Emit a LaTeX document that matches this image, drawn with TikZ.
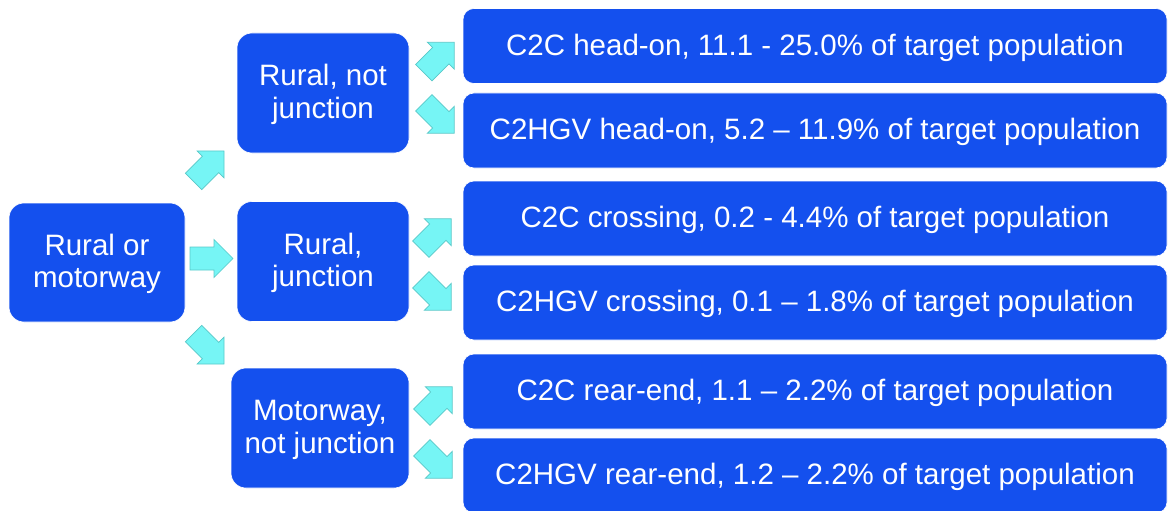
\documentclass[tikz,border=0pt]{standalone}
\usepackage{fontspec}
\setmainfont{Liberation Sans}
\definecolor{boxblue}{RGB}{20,80,238}
\definecolor{arrfill}{RGB}{118,245,245}
\definecolor{arredge}{RGB}{88,200,200}
\newcommand\shiftlbl[1]{\raisebox{-2.5pt}[\height][\depth]{\begin{tabular}{@{}c@{}}#1\end{tabular}}}
\tikzset{
  bluebox/.style={fill=boxblue, draw=white, line width=0.6pt, rounded corners=15pt,
    text=white, align=center, inner sep=0pt, font=\fontsize{29.5}{32.5}\selectfont},
  midbox/.style={bluebox, minimum width=172pt, minimum height=120pt},
  rightbox/.style={bluebox, rounded corners=11pt, minimum width=704pt, minimum height=75pt},
  blockarrow/.pic={
    \path[fill=arrfill, draw=arredge, line width=0.7pt, line join=miter]
      (-21.5,-11.5) -- (2.5,-11.5) -- (2.5,-19) -- (21.5,0) -- (2.5,19) -- (2.5,11.5) -- (-21.5,11.5) -- cycle;
  }
}
\begin{document}
\begin{tikzpicture}[x=1pt,y=-1pt]
\useasboundingbox (0,0) rectangle (1168,511);
% left box
\node[bluebox, minimum width=176pt, minimum height=119pt] (L) at (97,262.5) {\shiftlbl{Rural or\\motorway}};
% middle boxes
\node[midbox] (M1) at (323,93) {\shiftlbl{Rural, not\\junction}};
\node[midbox] (M2) at (323,261.5) {\shiftlbl{Rural,\\junction}};
\node[midbox, minimum width=178pt] (M3) at (320,428) {\shiftlbl{Motorway,\\not junction}};
% right boxes
\node[rightbox] (R1) at (815,46) {\shiftlbl{C2C head-on, 11.1 - 25.0\% of target population}};
\node[rightbox] (R2) at (815,130.5) {\shiftlbl{C2HGV head-on, 5.2 -- 11.9\% of target population}};
\node[rightbox] (R3) at (815,218.5) {\shiftlbl{C2C crossing, 0.2 - 4.4\% of target population}};
\node[rightbox] (R4) at (815,302.5) {\shiftlbl{C2HGV crossing, 0.1 -- 1.8\% of target population}};
\node[rightbox] (R5) at (815,391.5) {\shiftlbl{C2C rear-end, 1.1 -- 2.2\% of target population}};
\node[rightbox] (R6) at (815,475.5) {\shiftlbl{C2HGV rear-end, 1.2 -- 2.2\% of target population}};
% block arrows (y axis points down: rotate=45 is up-right on the page)
\pic[rotate=45] (a1) at (208.8,166.2) {blockarrow};
\pic (a2) at (211.5,258.5) {blockarrow};
\pic[rotate=-45] (a3) at (208.8,348.8) {blockarrow};
\pic[rotate=45] (b1) at (439,57.5) {blockarrow};
\pic[rotate=-45] (b2) at (439,118) {blockarrow};
\pic[rotate=45] (c1) at (436,234) {blockarrow};
\pic[rotate=-45] (c2) at (436,295) {blockarrow};
\pic[rotate=45] (d1) at (437,402) {blockarrow};
\pic[rotate=-45] (d2) at (437,463) {blockarrow};
\end{tikzpicture}
\end{document}
